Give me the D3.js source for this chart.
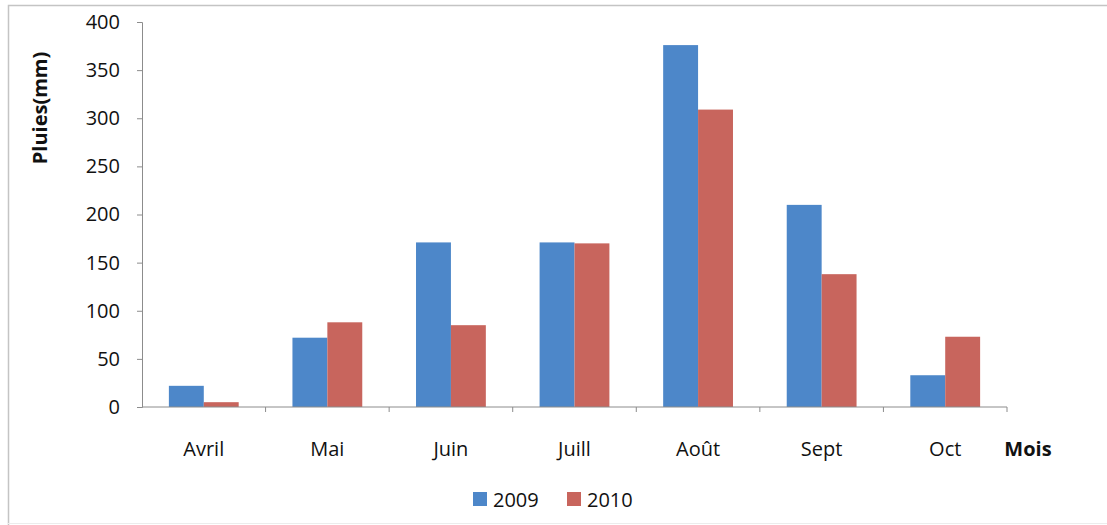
<!DOCTYPE html>
<html>
<head>
<meta charset="utf-8">
<script src="https://cdn.jsdelivr.net/npm/d3@7"></script>
<style>
  body { margin: 0; background: #fff; }
  svg { font-family: "Open Sans", "Noto Sans", sans-serif; }
</style>
</head>
<body>
<div class="chart"></div>
<script>
const months = ["Avril", "Mai", "Juin", "Juill", "Août", "Sept", "Oct"];
const years = ["2009", "2010"];
const rain2009 = [22, 72, 171, 171, 376, 210, 33];
const rain2010 = [5, 88, 85, 170, 309, 138, 73];
const yTicks = [0, 50, 100, 150, 200, 250, 300, 350, 400];
const colors = ["#4d87c9", "#c8655d"];

const width = 1107, height = 525;
const margin = { top: 22, right: 100, bottom: 118, left: 142 };

const svg = d3.select(".chart").append("svg")
  .attr("width", width).attr("height", height);

// frame (only top and left edges show in the scan)
svg.append("path")
  .attr("d", `M8.5,${height}V5.5H${width}`)
  .attr("fill", "none").attr("stroke", "#c4c4c4").attr("stroke-width", 1.5);
svg.append("line")
  .attr("x1", 8).attr("x2", width).attr("y1", 523.5).attr("y2", 523.5)
  .attr("stroke", "#ececec");

const x = d3.scaleBand().domain(months)
  .range([margin.left, width - margin.right]).padding(0);
const xs = d3.scaleBand().domain(years)
  .range([0, x.bandwidth()]).paddingInner(0).paddingOuter(0.77);
const y = d3.scaleLinear().domain([0, 400])
  .range([height - margin.bottom, margin.top]);

const rows = months.map((m, i) => ({ month: m, values: [rain2009[i], rain2010[i]] }));

svg.append("g")
  .selectAll("g")
  .data(rows)
  .join("g")
  .attr("transform", d => `translate(${x(d.month)},0)`)
  .selectAll("rect")
  .data(d => d.values.map((v, k) => ({ year: years[k], v, k })))
  .join("rect")
  .attr("x", d => xs(d.year))
  .attr("width", xs.bandwidth())
  .attr("y", d => y(d.v))
  .attr("height", d => y(0) - y(d.v))
  .attr("fill", d => colors[d.k]);

// y axis
const yAxis = svg.append("g")
  .attr("transform", `translate(${margin.left},0)`)
  .call(d3.axisLeft(y).tickValues(yTicks).tickSize(5).tickPadding(17));
yAxis.select(".domain").attr("stroke", "#8c8c8c");
yAxis.selectAll(".tick line").attr("stroke", "#8c8c8c");
yAxis.selectAll("text").attr("font-size", 20).attr("fill", "#111")
  .attr("font-family", "'Open Sans', sans-serif");

// x axis: ticks at category boundaries
const xAxis = svg.append("g")
  .attr("transform", `translate(0,${y(0)})`);
xAxis.append("line")
  .attr("x1", margin.left).attr("x2", width - margin.right)
  .attr("stroke", "#8c8c8c");
xAxis.selectAll(".sep")
  .data(months)
  .join("line")
  .attr("class", "sep")
  .attr("x1", d => x(d) + x.bandwidth()).attr("x2", d => x(d) + x.bandwidth())
  .attr("y1", 0).attr("y2", 5)
  .attr("stroke", "#8c8c8c");
xAxis.selectAll("text")
  .data(months)
  .join("text")
  .attr("x", d => x(d) + x.bandwidth() / 2)
  .attr("y", 49)
  .attr("text-anchor", "middle")
  .attr("font-size", 20)
  .attr("fill", "#111")
  .text(d => d);

// axis titles
svg.append("text")
  .attr("transform", "translate(47,108) rotate(-90)")
  .attr("text-anchor", "middle")
  .attr("font-size", 20).attr("font-weight", "bold")
  .attr("fill", "#111")
  .text("Pluies(mm)");

svg.append("text")
  .attr("x", 1028).attr("y", y(0) + 49)
  .attr("text-anchor", "middle")
  .attr("font-size", 20).attr("font-weight", "bold")
  .attr("fill", "#111")
  .text("Mois");

// legend
const legend = svg.append("g").attr("transform", "translate(473,500)");
const item = legend.selectAll("g")
  .data(years)
  .join("g")
  .attr("transform", (d, i) => `translate(${i * 94},0)`);
item.append("rect")
  .attr("x", 0).attr("y", -8).attr("width", 14).attr("height", 14)
  .attr("fill", (d, i) => colors[i]);
item.append("text")
  .attr("x", 20).attr("y", 7)
  .attr("font-size", 20).attr("fill", "#111")
  .text(d => d);
</script>
</body>
</html>
